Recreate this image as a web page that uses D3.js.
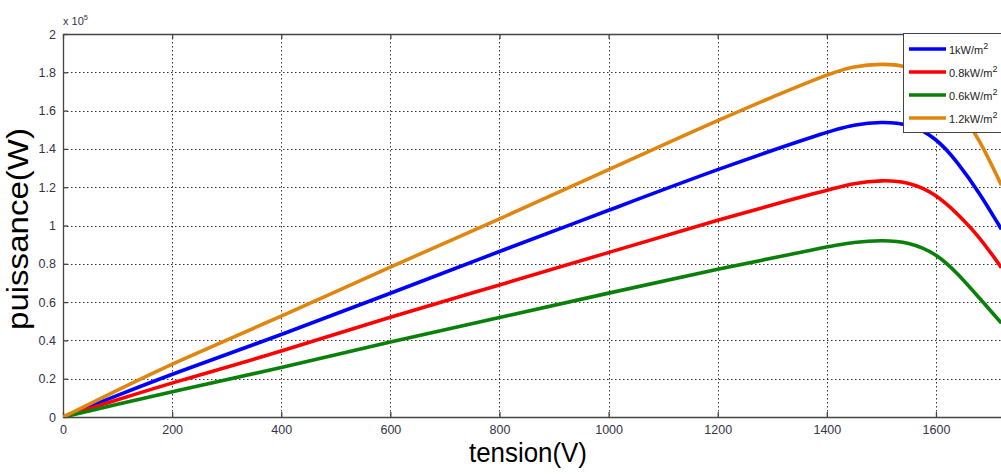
<!DOCTYPE html>
<html>
<head>
<meta charset="utf-8">
<script src="https://cdn.jsdelivr.net/npm/d3@7"></script>
<style>
  html, body { margin: 0; padding: 0; background: #fff; }
  svg { display: block; font-family: "Liberation Sans", Arial, sans-serif; }
</style>
</head>
<body>
<svg id="chart" width="1001" height="474"></svg>
<script>
// ---- data (power in units of 1e5 W) ----
const voltage = [0, 100, 200, 400, 600, 800, 1000, 1200, 1400, 1450, 1500, 1550, 1600, 1640, 1680, 1720];
const p1kW    = [0, 0.113, 0.225, 0.428, 0.646, 0.865, 1.079, 1.295, 1.490, 1.527, 1.542, 1.532, 1.460, 1.330, 1.170, 0.980];
const p08kW   = [0, 0.090, 0.179, 0.341, 0.524, 0.688, 0.859, 1.030, 1.185, 1.222, 1.237, 1.229, 1.165, 1.060, 0.940, 0.780];
const p06kW   = [0, 0.066, 0.132, 0.257, 0.393, 0.520, 0.647, 0.773, 0.889, 0.913, 0.924, 0.915, 0.855, 0.750, 0.620, 0.490];
const p12kW   = [0, 0.140, 0.280, 0.524, 0.785, 1.033, 1.291, 1.551, 1.791, 1.832, 1.845, 1.835, 1.760, 1.620, 1.450, 1.210];
const seriesNames = ["1kW/m", "0.8kW/m", "0.6kW/m", "1.2kW/m"];
const seriesColors = ["#0000ff", "#ff0000", "#0a800a", "#e0860f"];
const xTicks = [0, 200, 400, 600, 800, 1000, 1200, 1400, 1600];
const yTicks = [0, 0.2, 0.4, 0.6, 0.8, 1, 1.2, 1.4, 1.6, 1.8, 2];
const xTitle = "tension(V)";
const yTitle = "puissance(W)";

const seriesValues = [p1kW, p08kW, p06kW, p12kW];

const svg = d3.select("#chart");
const L = 63, T = 34, B = 417;
const x = d3.scaleLinear().domain([0, 1800]).range([L, L + 0.5456 * 1800]);
const y = d3.scaleLinear().domain([0, 2]).range([B, T]);
const R = x(1800);

svg.append("defs").append("clipPath").attr("id", "plotclip")
  .append("rect").attr("x", L).attr("y", T).attr("width", R - L).attr("height", B - T);

// grid
const grid = svg.append("g").attr("stroke", "#333").attr("stroke-width", 1)
  .attr("stroke-dasharray", "1.5,2.5").attr("fill", "none");
xTicks.filter(v => v > 0).forEach(v => {
  grid.append("line").attr("x1", Math.round(x(v)) + 0.5).attr("x2", Math.round(x(v)) + 0.5)
    .attr("y1", T).attr("y2", B);
});
yTicks.filter(v => v > 0 && v < 2).forEach(v => {
  grid.append("line").attr("y1", Math.round(y(v)) + 0.5).attr("y2", Math.round(y(v)) + 0.5)
    .attr("x1", L).attr("x2", R);
});

// axes (MATLAB style inward ticks)
const fmt = d3.format("~g");
const xAxisB = d3.axisBottom(x).tickValues(xTicks).tickSizeInner(-5).tickSizeOuter(0).tickPadding(8).tickFormat(fmt);
const xAxisT = d3.axisTop(x).tickValues(xTicks).tickSizeInner(-5).tickSizeOuter(0).tickFormat("");
const yAxisL = d3.axisLeft(y).tickValues(yTicks).tickSizeInner(-5).tickSizeOuter(0).tickPadding(7).tickFormat(fmt);

function styleAxis(g) {
  g.select(".domain").attr("stroke", "#444").attr("stroke-width", 1.3);
  g.selectAll(".tick line").attr("stroke", "#444").attr("stroke-width", 1.3);
  g.selectAll(".tick text").attr("fill", "#33334a").attr("font-size", 12.5)
    .attr("font-family", "'Liberation Sans', Arial, sans-serif");
}
svg.append("g").attr("transform", `translate(0,${B})`).call(xAxisB).call(styleAxis);
svg.append("g").attr("transform", `translate(0,${T})`).call(xAxisT).call(styleAxis);
svg.append("g").attr("transform", `translate(${L},0)`).call(yAxisL).call(styleAxis);

// exponent label
const ex = svg.append("text").attr("x", 63).attr("y", 25).attr("font-size", 11).attr("fill", "#33334a");
ex.append("tspan").text("x 10");
ex.append("tspan").attr("dy", -5).attr("font-size", 7.5).text("5");

// curves
const line = d3.line().x(d => x(d[0])).y(d => y(d[1])).curve(d3.curveBasis);
const curves = svg.append("g").attr("clip-path", "url(#plotclip)");
seriesValues.forEach((vals, i) => {
  curves.append("path")
    .datum(voltage.map((v, j) => [v, vals[j]]))
    .attr("d", line)
    .attr("fill", "none")
    .attr("stroke", seriesColors[i])
    .attr("stroke-width", 3.6)
    .attr("stroke-linejoin", "round");
});

// axis titles
svg.append("text").attr("x", 528).attr("y", 462).attr("text-anchor", "middle")
  .attr("font-size", 27).attr("fill", "#000")
  .attr("textLength", 118).attr("lengthAdjust", "spacingAndGlyphs").text(xTitle);
svg.append("text").attr("transform", "translate(28,229) rotate(-90)").attr("text-anchor", "middle")
  .attr("font-size", 29).attr("fill", "#000")
  .attr("textLength", 202).attr("lengthAdjust", "spacingAndGlyphs").text(yTitle);

// legend
const lg = svg.append("g");
lg.append("rect").attr("x", 903.5).attr("y", 33.5).attr("width", 120).attr("height", 99)
  .attr("fill", "#fff").attr("stroke", "#444").attr("stroke-width", 1);
const rowY = [49, 72, 95, 118];
seriesNames.forEach((name, i) => {
  lg.append("line").attr("x1", 909).attr("x2", 946).attr("y1", rowY[i]).attr("y2", rowY[i])
    .attr("stroke", seriesColors[i]).attr("stroke-width", 3.5);
  const t = lg.append("text").attr("x", 949).attr("y", rowY[i] + 5).attr("font-size", 11).attr("fill", "#222");
  t.append("tspan").text(name);
  t.append("tspan").attr("dy", -5).attr("font-size", 9).text("2");
});
</script>
</body>
</html>
